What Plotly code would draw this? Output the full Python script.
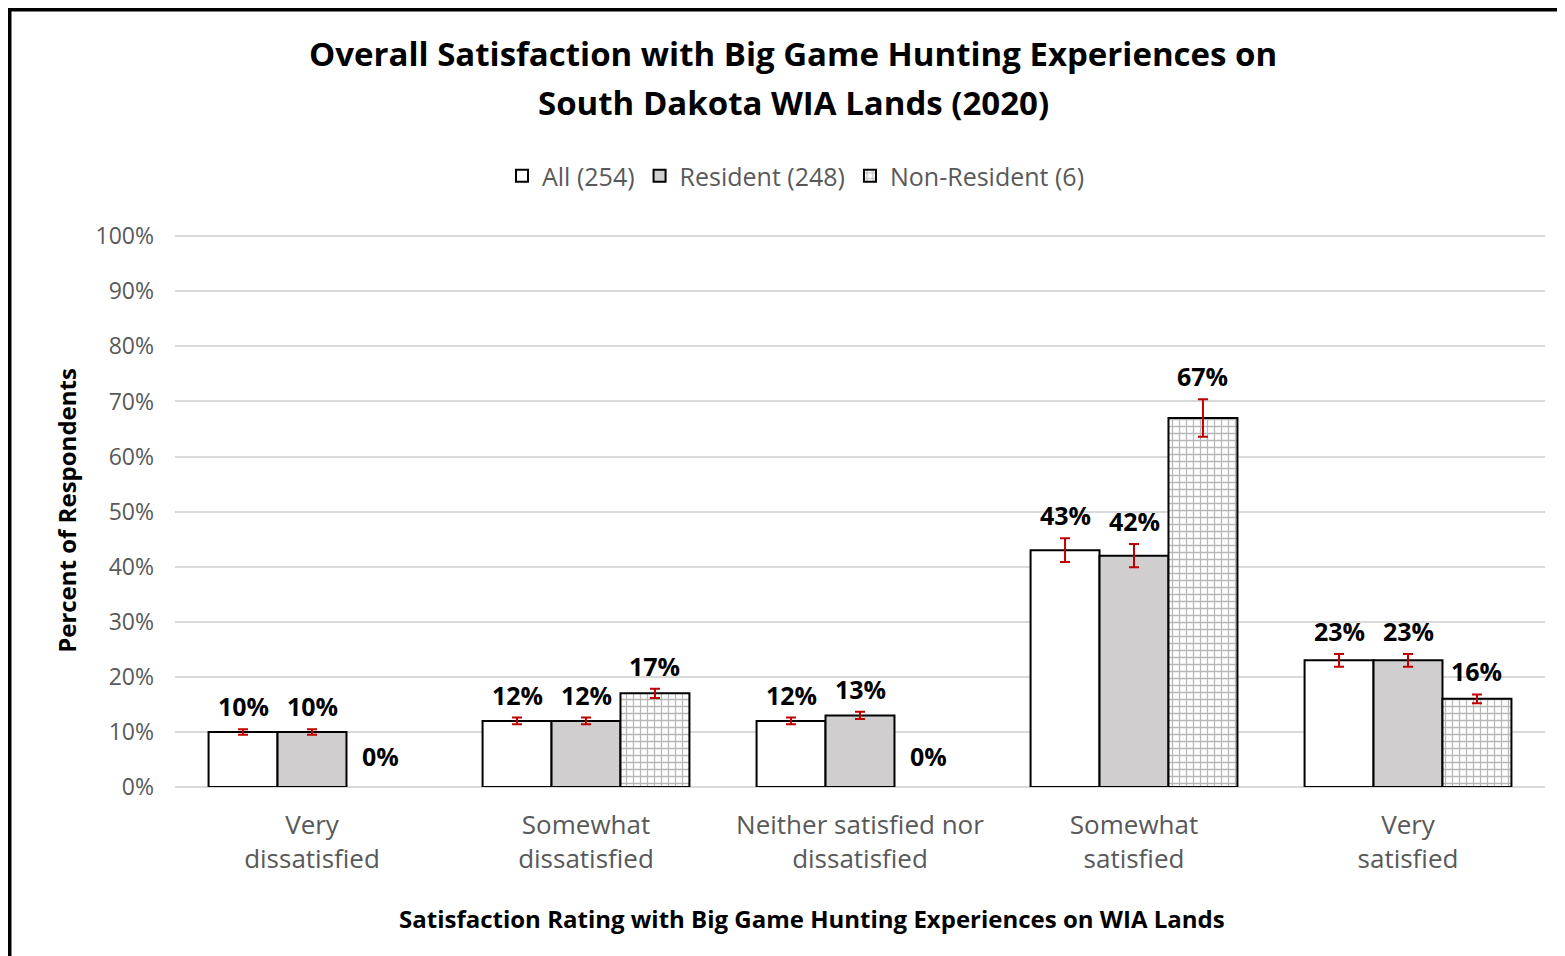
import plotly.graph_objects as go

categories = ["Very<br>dissatisfied", "Somewhat<br>dissatisfied", "Neither satisfied nor<br>dissatisfied",
              "Somewhat<br>satisfied", "Very<br>satisfied"]
series_names = ["All (254)", "Resident (248)", "Non-Resident (6)"]
all_vals = [10, 12, 12, 43, 23]
res_vals = [10, 12, 13, 42, 23]
nonres_vals = [0, 17, 0, 67, 16]
all_err = [0.5, 0.6, 0.6, 2.15, 1.15]
res_err = [0.5, 0.6, 0.65, 2.1, 1.15]
nonres_err = [None, 0.85, None, 3.4, 0.8]
y_ticks = [0, 10, 20, 30, 40, 50, 60, 70, 80, 90, 100]

FONT = "Open Sans"
GRAY = "#595959"
RED = "#c00000"

fig = go.Figure()
styles = [
    dict(color="white"),
    dict(color="#d0cece"),
    dict(color="white", pattern=dict(shape="+", fgcolor="#6f6f6f", bgcolor="white", size=7, solidity=0.33)),
]
for name, vals, errs, st in zip(series_names, [all_vals, res_vals, nonres_vals],
                                [all_err, res_err, nonres_err], styles):
    fig.add_trace(go.Bar(
        name=name, x=categories, y=[v if v > 0 else None for v in vals],
        marker=dict(line=dict(color="black", width=2), **st),
        error_y=dict(type="data", array=errs, visible=True, color=RED, thickness=2, width=5),
    ))

# data labels
bar_px = 274 * (1 - 0.245) / 3
for k, (vals, errs) in enumerate(zip([all_vals, res_vals, nonres_vals], [all_err, res_err, nonres_err])):
    for c, v, e in zip(categories, vals, errs):
        fig.add_annotation(x=c, y=v + (e or 0), xref="x", yref="y", text=f"<b>{v}%</b>",
                           showarrow=False, yanchor="bottom", xshift=(k - 1) * bar_px,
                           yshift=4 if v > 0 else 12,
                           font=dict(family=FONT, size=25, color="black"))

# title
fig.add_annotation(x=(793 - 175) / 1370, y=(787 - 53) / 553, xref="paper", yref="paper",
                   text="<b>Overall Satisfaction with Big Game Hunting Experiences on</b>", showarrow=False,
                   yanchor="middle", font=dict(family=FONT, size=33, color="black"))
fig.add_annotation(x=(793 - 175) / 1370, y=(787 - 103) / 553, xref="paper", yref="paper",
                   text="<b>South Dakota WIA Lands (2020)</b>", showarrow=False,
                   yanchor="middle", font=dict(family=FONT, size=33, color="black"))

# x-axis title (offset left of plot centre as in the original)
fig.add_annotation(x=(812 - 175) / 1370, y=(787 - 918) / 553, xref="paper", yref="paper",
                   text="<b>Satisfaction Rating with Big Game Hunting Experiences on WIA Lands</b>",
                   showarrow=False, yanchor="middle", font=dict(family=FONT, size=24, color="black"))

# outer border
fig.add_shape(type="rect", xref="paper", yref="paper",
              x0=(9.5 - 175) / 1370, x1=1.3, y0=-0.5, y1=1 + (226 - 1.5) / 553,
              line=dict(color="black", width=4), fillcolor="rgba(0,0,0,0)", layer="above")

fig.update_layout(
    width=1565, height=956,
    margin=dict(l=167, r=28, t=226, b=177),
    paper_bgcolor="white", plot_bgcolor="white",
    barmode="group", bargap=0.245, bargroupgap=0,
    font=dict(family=FONT, color=GRAY),
    legend=dict(orientation="h", x=(796 - 175) / 1370, xanchor="center", y=(787 - 176) / 553,
                yanchor="middle", font=dict(family=FONT, size=25, color=GRAY), itemwidth=30),
    xaxis=dict(tickfont=dict(family=FONT, size=26, color=GRAY), showline=False, ticks="",
               ticklabelstandoff=20),
    yaxis=dict(range=[0, 100.4], tickvals=y_ticks, ticktext=[f"{t}%" for t in y_ticks],
               tickfont=dict(family=FONT, size=23, color=GRAY),
               gridcolor="#d9d9d9", gridwidth=2, zeroline=True, zerolinecolor="#d9d9d9", zerolinewidth=2,
               ticks="", ticklabelstandoff=20,
               title=dict(text="<b>Percent of Respondents</b>", font=dict(family=FONT, size=24, color="black"),
                          standoff=12)),
)

fig.write_html("out.html")
